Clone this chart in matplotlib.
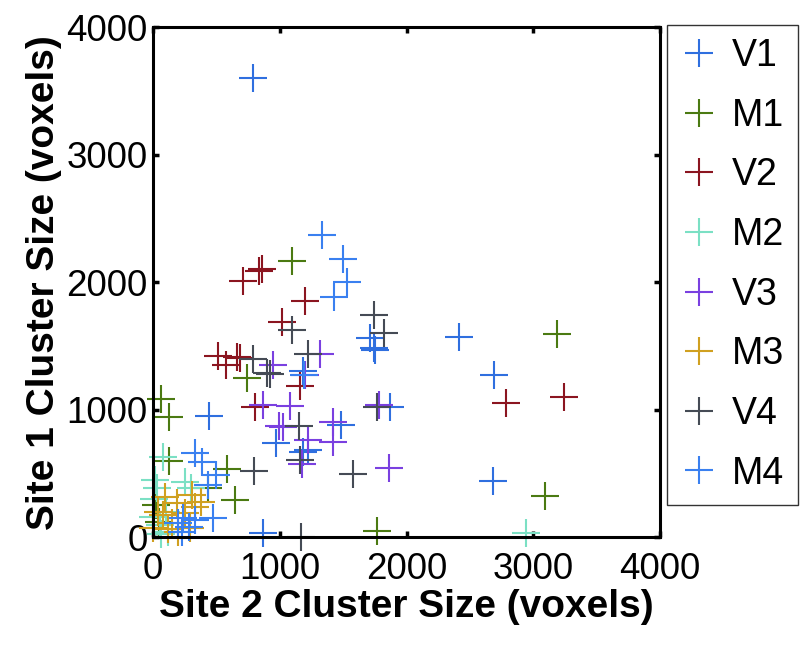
import matplotlib
matplotlib.use("Agg")
import matplotlib.pyplot as plt

# cluster sizes (site 2 on x, site 1 on y)
labels = ["V1", "M1", "V2", "M2", "V3", "M3", "V4", "M4"]
colors = ["#2f6fdf", "#4b7a12", "#8b1520", "#7be0c4", "#7a40e0", "#d0a020", "#454b55", "#3a80f0"]

v1_x = [790, 1750, 1710, 1740, 2410, 2690, 2680, 1870, 1480, 1180, 1220, 1180, 970, 440, 870]
v1_y = [3600, 1470, 1560, 1480, 1570, 1270, 440, 1020, 880, 670, 680, 1300, 740, 950, 30]

m1_x = [1100, 740, 3190, 3090, 1770, 60, 130, 130, 580, 650, 430, 20, 50]
m1_y = [2170, 1250, 1590, 320, 45, 1080, 940, 600, 530, 290, 385, 250, 120]

v2_x = [860, 835, 710, 1200, 1015, 510, 575, 685, 660, 1160, 805, 3240, 2780]
v2_y = [2105, 2090, 2010, 1855, 1690, 1420, 1350, 1405, 1415, 1185, 1020, 1100, 1050]

m2_x = [2945, 80, 15, 250, 30, 55, 120, 0, 300, 60, 10, 100]
m2_y = [30, 630, 450, 430, 385, 95, 40, 160, 385, 20, 300, 200]

v3_x = [945, 1315, 865, 1080, 990, 1025, 1420, 1420, 1220, 1860, 1780, 1175, 1200]
v3_y = [1350, 1437, 1037, 1030, 870, 865, 900, 746, 760, 540, 1037, 575, 1270]

m3_x = [95, 190, 330, 380, 40, 80, 250, 150, 290, 0, 200, 310, 120]
m3_y = [315, 265, 235, 275, 195, 175, 190, 110, 70, 70, 40, 330, 60]

v4_x = [1740, 1820, 1100, 1220, 790, 900, 920, 1765, 1150, 1160, 800, 1575, 1170]
v4_y = [1745, 1600, 1625, 1440, 1400, 1290, 1280, 1020, 870, 605, 520, 495, 0]

m4_x = [1330, 1500, 1530, 1425, 1190, 330, 390, 500, 430, 200, 240, 330, 280, 470, 230]
m4_y = [2370, 2180, 2000, 1885, 1270, 660, 590, 490, 410, 110, 150, 130, 80, 150, 40]

xs = [v1_x, m1_x, v2_x, m2_x, v3_x, m3_x, v4_x, m4_x]
ys = [v1_y, m1_y, v2_y, m2_y, v3_y, m3_y, v4_y, m4_y]

plt.rcParams['font.family'] = ['Liberation Sans', 'DejaVu Sans']

fig = plt.figure(figsize=(8, 6.46), dpi=100)
ax = fig.add_axes([0.19125, 0.1687, 0.634, 0.789])

for x, y, lab, c in zip(xs, ys, labels, colors):
    ax.plot(x, y, linestyle='none', marker='+', markersize=19.5,
            markeredgewidth=1.5, color=c, label=lab, clip_on=False)

ax.set_xlim(0, 4000)
ax.set_ylim(0, 4000)
ax.set_xticks([0, 1000, 2000, 3000, 4000])
ax.set_yticks([0, 1000, 2000, 3000, 4000])
ax.tick_params(direction='in', length=4, width=2.5, labelsize=26.5,
               top=True, right=True)
ax.tick_params(axis='x', pad=11)
ax.tick_params(axis='y', pad=4)
for s in ax.spines.values():
    s.set_linewidth(2.2)

ax.set_xlabel('Site 2 Cluster Size (voxels)', fontsize=28, fontweight='bold', labelpad=1)
ax.set_ylabel('Site 1 Cluster Size (voxels)', fontsize=28, fontweight='bold', labelpad=3)

leg = ax.legend(loc='upper left', bbox_to_anchor=(667 / 800, 1 - 25 / 646),
                bbox_transform=fig.transFigure, borderaxespad=0,
                fontsize=27, frameon=True, fancybox=False,
                labelspacing=0.63, handlelength=1.0, handletextpad=0.39,
                borderpad=0.35)
leg.get_frame().set_edgecolor('black')
leg.get_frame().set_linewidth(1.0)

fig.savefig('out.png', dpi=100)
